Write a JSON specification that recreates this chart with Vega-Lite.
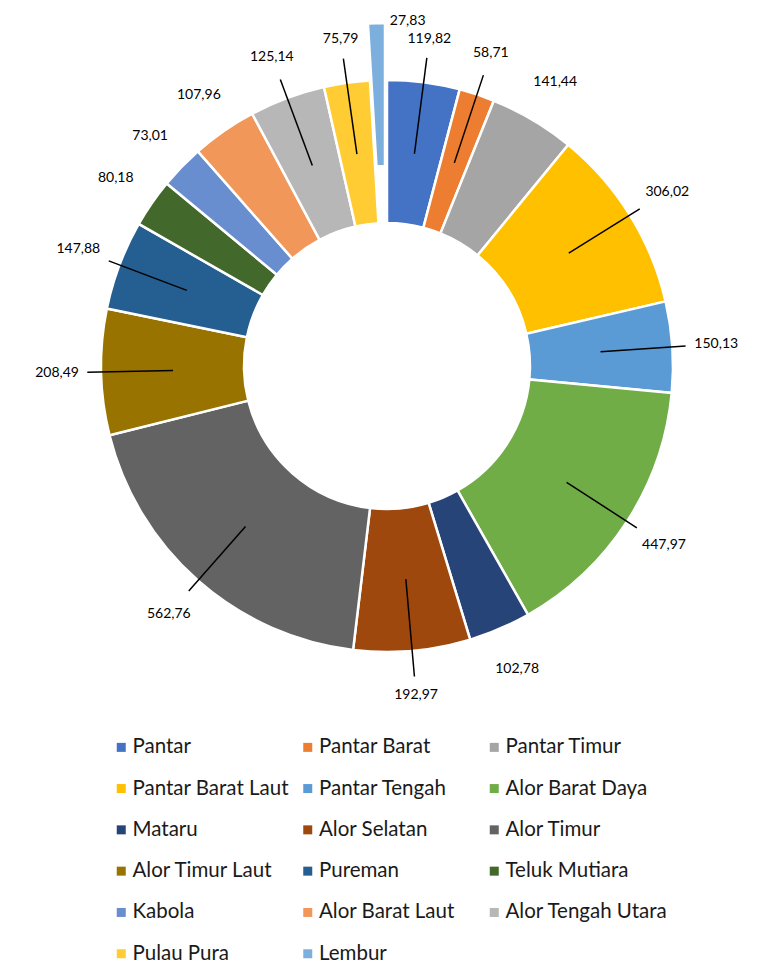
{
  "$schema": "https://vega.github.io/schema/vega-lite/v6.json",
  "width": 774,
  "height": 732,
  "autosize": {"type": "none"},
  "padding": {"left": 0, "top": 0, "right": 0, "bottom": 247},
  "background": "white",
  "config": {
    "view": {"stroke": null},
    "font": "Lato",
    "locale": {"number": {"decimal": ",", "thousands": ".", "grouping": [3], "currency": ["", ""]}}
  },
  "data": {
    "values": [
      {"name": "Pantar", "value": 119.82},
      {"name": "Pantar Barat", "value": 58.71},
      {"name": "Pantar Timur", "value": 141.44},
      {"name": "Pantar Barat Laut", "value": 306.02},
      {"name": "Pantar Tengah", "value": 150.13},
      {"name": "Alor Barat Daya", "value": 447.97},
      {"name": "Mataru", "value": 102.78},
      {"name": "Alor Selatan", "value": 192.97},
      {"name": "Alor Timur", "value": 562.76},
      {"name": "Alor Timur Laut", "value": 208.49},
      {"name": "Pureman", "value": 147.88},
      {"name": "Teluk Mutiara", "value": 80.18},
      {"name": "Kabola", "value": 73.01},
      {"name": "Alor Barat Laut", "value": 107.96},
      {"name": "Alor Tengah Utara", "value": 125.14},
      {"name": "Pulau Pura", "value": 75.79},
      {"name": "Lembur", "value": 27.83}
    ]
  },
  "transform": [{"window": [{"op": "row_number", "as": "idx"}]}],
  "layer": [
    {
      "mark": {"type": "arc", "innerRadius": 143, "outerRadius": 286, "stroke": "white", "strokeWidth": 2.5},
      "encoding": {
        "theta": {"field": "value", "type": "quantitative", "stack": true},
        "order": {"field": "idx", "type": "quantitative"},
        "color": {
          "field": "name",
          "type": "nominal",
          "scale": {
            "domain": ["Pantar", "Pantar Barat", "Pantar Timur", "Pantar Barat Laut", "Pantar Tengah", "Alor Barat Daya", "Mataru", "Alor Selatan", "Alor Timur", "Alor Timur Laut", "Pureman", "Teluk Mutiara", "Kabola", "Alor Barat Laut", "Alor Tengah Utara", "Pulau Pura", "Lembur"],
            "range": ["#4472C4", "#ED7D31", "#A5A5A5", "#FFC000", "#5B9BD5", "#70AD47", "#264478", "#9E480E", "#636363", "#997300", "#255E91", "#43682B", "#698ED0", "#F1975A", "#B7B7B7", "#FFCD33", "#7CAFDD"]
          },
          "legend": {
            "orient": "none",
            "legendX": 111,
            "legendY": 737,
            "direction": "horizontal",
            "columns": 3,
            "title": null,
            "symbolType": "square",
            "symbolSize": 81,
            "symbolStrokeWidth": 0,
            "labelFontSize": 20.5,
            "labelFont": "Lato",
            "labelColor": "#1a1a1a",
            "labelOffset": 1,
            "labelLimit": 300,
            "rowPadding": 20.3,
            "columnPadding": 2.5,
            "gridAlign": "all"
          }
        },
        "opacity": {"condition": {"test": "datum.name === 'Lembur'", "value": 0}, "value": 1}
      }
    },
    {
      "mark": {"type": "arc", "innerRadius": 143, "outerRadius": 286, "stroke": "white", "strokeWidth": 2.5, "xOffset": -2, "yOffset": -57},
      "encoding": {
        "theta": {"field": "value", "type": "quantitative", "stack": true},
        "order": {"field": "idx", "type": "quantitative"},
        "color": {"field": "name", "type": "nominal"},
        "opacity": {"condition": {"test": "datum.name === 'Lembur'", "value": 1}, "value": 0}
      }
    },
    {
      "mark": {"type": "text", "radius": 330, "fontSize": 14, "font": "Lato", "color": "#000000"},
      "encoding": {
        "theta": {"field": "value", "type": "quantitative", "stack": true},
        "order": {"field": "idx", "type": "quantitative"},
        "detail": {"field": "name", "type": "nominal"},
        "text": {"field": "value", "type": "quantitative", "format": ".2f"},
        "opacity": {"condition": {"test": "datum.name === 'Lembur'", "value": 0}, "value": 1}
      }
    },
    {
      "mark": {"type": "text", "radius": 345, "dx": 31, "dy": 0, "fontSize": 14, "font": "Lato", "color": "#000000"},
      "encoding": {
        "theta": {"field": "value", "type": "quantitative", "stack": true},
        "order": {"field": "idx", "type": "quantitative"},
        "detail": {"field": "name", "type": "nominal"},
        "text": {"field": "value", "type": "quantitative", "format": ".2f"},
        "opacity": {"condition": {"test": "datum.name === 'Lembur'", "value": 1}, "value": 0}
      }
    },
    {
      "transform": [
        {"joinaggregate": [{"op": "sum", "field": "value", "as": "total"}]},
        {"window": [{"op": "sum", "field": "value", "as": "cum"}], "sort": [{"field": "idx"}], "frame": [null, 0]},
        {"calculate": "2*PI*(datum.cum - datum.value/2)/datum.total", "as": "a"},
        {"calculate": "326 - 26*abs(sin(datum.a)) - 12*abs(cos(datum.a))", "as": "re"},
        {"calculate": "214*sin(datum.a)", "as": "px1"},
        {"calculate": "214*cos(datum.a)", "as": "py1"},
        {"calculate": "datum.re*sin(datum.a)", "as": "px2"},
        {"calculate": "datum.re*cos(datum.a)", "as": "py2"},
        {"filter": "indexof(['Pantar','Pantar Barat','Pantar Barat Laut','Pantar Tengah','Alor Barat Daya','Alor Selatan','Alor Timur','Alor Timur Laut','Pureman','Alor Tengah Utara','Pulau Pura'], datum.name) >= 0"}
      ],
      "mark": {"type": "rule", "color": "#000000", "strokeWidth": 1.5},
      "encoding": {
        "x": {"field": "px1", "type": "quantitative", "scale": {"domain": [-387, 387], "nice": false, "zero": false}, "axis": null},
        "x2": {"field": "px2"},
        "y": {"field": "py1", "type": "quantitative", "scale": {"domain": [-366, 366], "nice": false, "zero": false}, "axis": null},
        "y2": {"field": "py2"}
      }
    }
  ]
}
